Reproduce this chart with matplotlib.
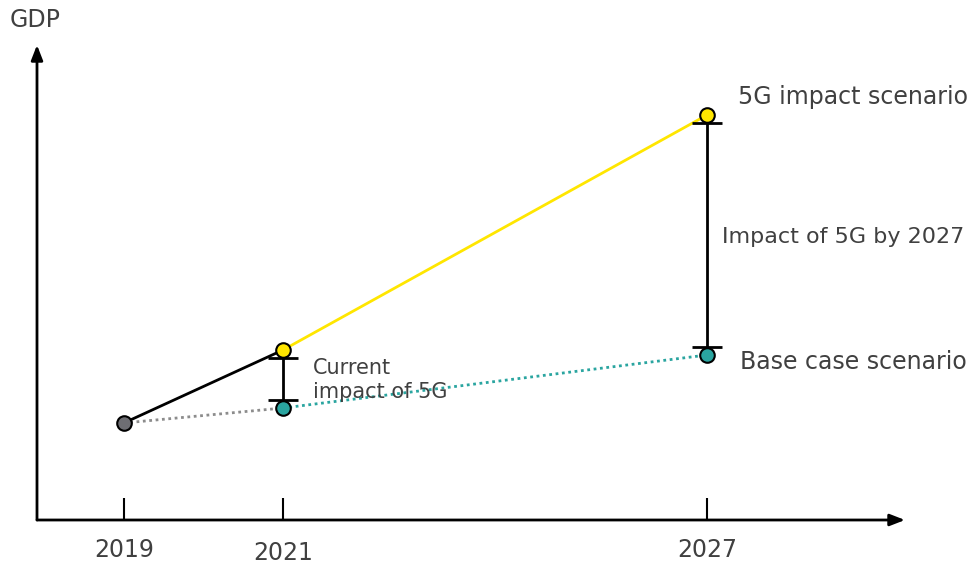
import matplotlib
matplotlib.use("Agg")
import matplotlib.pyplot as plt

# Data
years = ["2019", "2021", "2027"]
x_pos = [1.0, 2.834, 7.719]          # category positions along the time axis
base_case = [97, 112, 165]           # GDP, base case scenario (2019 shared)
impact_5g = [97, 170, 405]           # GDP, 5G impact scenario

YELLOW = "#FFE600"
TEAL = "#2AA5A0"
GRAY = "#6E6E73"
TEXT = "#404040"

fig = plt.figure(figsize=(9.73, 5.66), dpi=100)
W, H = 973, 566
ax = fig.add_axes([37 / W, (H - 520) / H, (905 - 37) / W, (520 - 45) / H])
ax.set_xlim(0, 10)
ax.set_ylim(0, 475)
ax.axis("off")

font = "DejaVu Sans"

# Axes arrows
ax.annotate("", xy=(1.0, 0), xytext=(0, 0), xycoords="axes fraction",
            arrowprops=dict(arrowstyle="-|>,head_length=0.9,head_width=0.35", color="black", lw=2,
                            shrinkA=0, shrinkB=0), clip_on=False)
ax.annotate("", xy=(0, 1.0), xytext=(0, 0), xycoords="axes fraction",
            arrowprops=dict(arrowstyle="-|>,head_length=0.9,head_width=0.35", color="black", lw=2,
                            shrinkA=0, shrinkB=0), clip_on=False)

# Ticks
ax.vlines(x_pos, 0, 22, color="black", lw=1.5, clip_on=False)
for xp, lab, dy in zip(x_pos, years, [-30, -33, -30]):
    ax.text(xp, dy, lab, ha="center", va="center", fontsize=17, color=TEXT,
            family=font, clip_on=False)

fig.text(10 / W, 1 - 20 / H, "GDP", ha="left", va="center", fontsize=17, color=TEXT, family=font)

# Lines
ax.plot(x_pos[:2], [impact_5g[0], impact_5g[1]], color="black", lw=2, zorder=2)
ax.plot(x_pos[:2], [base_case[0], base_case[1]], color="#8C8C8C", lw=2, ls=(0, (1, 1.3)), zorder=2)
ax.plot(x_pos[1:], impact_5g[1:], color=YELLOW, lw=2, zorder=2)
ax.plot(x_pos[1:], base_case[1:], color=TEAL, lw=2, ls=(0, (1, 1.3)), zorder=2)

# Impact brackets
for i in (1, 2):
    lo = base_case[i] + 8
    hi = impact_5g[i] - 8
    ax.errorbar([x_pos[i]], [(lo + hi) / 2], yerr=[[(hi - lo) / 2], [(hi - lo) / 2]],
                fmt="none", ecolor="black", elinewidth=2, capsize=11, capthick=2, zorder=3)

# Markers
ax.scatter([x_pos[0]], [base_case[0]], s=110, color=GRAY, edgecolor="black", lw=1.5, zorder=4)
ax.scatter(x_pos[1:], impact_5g[1:], s=110, color=YELLOW, edgecolor="black", lw=1.5, zorder=4)
ax.scatter(x_pos[1:], base_case[1:], s=110, color=TEAL, edgecolor="black", lw=1.5, zorder=4)

# Annotations
ax.text(8.08, 423, "5G impact scenario", ha="left", va="center", fontsize=17, color=TEXT, family=font)
ax.text(7.89, 283, "Impact of 5G by 2027", ha="left", va="center", fontsize=16, color=TEXT, family=font)
ax.text(8.10, 158, "Base case scenario", ha="left", va="center", fontsize=17, color=TEXT, family=font)
ax.text(3.18, 140, "Current\nimpact of 5G", ha="left", va="center", fontsize=15, color=TEXT,
        family=font, linespacing=1.2)

fig.savefig("out.png", dpi=100)
